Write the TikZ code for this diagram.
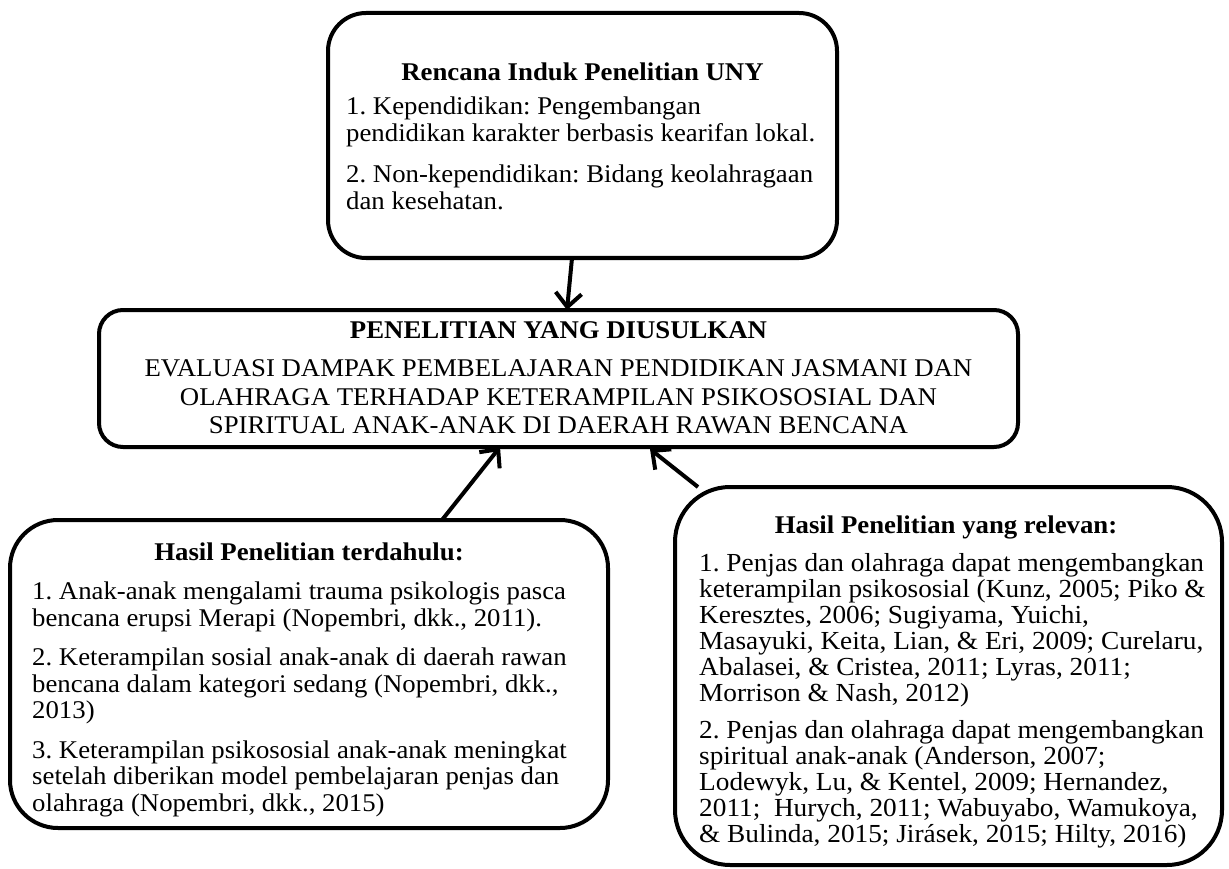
\documentclass[tikz,border=0pt]{standalone}
\usepackage{fontspec}
\setmainfont{Liberation Serif}[FakeStretch=1.05]
\usetikzlibrary{arrows.meta}
\begin{document}
\begin{tikzpicture}[x=1pt,y=-1pt,
  box/.style={draw, line width=4pt, outer sep=0pt, inner sep=0pt, fill=white},
  body/.style={inner sep=0pt, align=left, anchor=north west,
    font=\fontsize{25.5}{26.5}\selectfont\frenchspacing},
  bigbody/.style={inner sep=0pt, align=left, anchor=north west,
    font=\fontsize{26}{26}\selectfont\frenchspacing},
  midbody/.style={inner sep=0pt, align=center, anchor=north,
    font=\fontsize{25.5}{28.5}\selectfont\frenchspacing},
  ttl/.style={inner sep=0pt, anchor=base,
    font=\fontsize{25.5}{26.5}\selectfont\bfseries\frenchspacing},
  conn/.style={line width=4pt, -{Straight Barb[length=14pt,width=26pt]}}]
\useasboundingbox (0,0) rectangle (1229,869);
\fill[white] (0,0) rectangle (1229,869);

% boxes
\node[box, rounded corners=38pt, minimum width=509pt, minimum height=245pt] (top) at (582.5,135.5) {};
\node[box, rounded corners=24pt, minimum width=919pt, minimum height=137pt] (mid) at (558.5,378.5) {};
\node[box, rounded corners=48pt, minimum width=598pt, minimum height=308pt] (left) at (309,674) {};
\node[box, rounded corners=55pt, minimum width=547pt, minimum height=378pt] (right) at (948.5,676) {};

% top box texts
\node[ttl] (toptitle) at (582.5,80.5) {Rencana Induk Penelitian UNY};
\node[body] (toptext) at (346,97) {1. Kependidikan: Pengembangan\\
pendidikan karakter berbasis kearifan lokal.\\[15pt]
2. Non-kependidikan: Bidang keolahragaan\\
dan kesehatan.};

% middle box texts
\node[ttl] (midtitle) at (558.5,338.5) {PENELITIAN YANG DIUSULKAN};
\node[midbody] (midtext) at (558.5,359.5) {EVALUASI DAMPAK PEMBELAJARAN PENDIDIKAN JASMANI DAN\\
OLAHRAGA TERHADAP KETERAMPILAN PSIKOSOSIAL DAN\\
SPIRITUAL ANAK-ANAK DI DAERAH RAWAN BENCANA};

% left box texts
\node[ttl] (lefttitle) at (309,560.5) {Hasil Penelitian terdahulu:};
\node[body] (lefttext) at (32,582) {1. Anak-anak mengalami trauma psikologis pasca\\
bencana erupsi Merapi (Nopembri, dkk., 2011).\\[13pt]
2. Keterampilan sosial anak-anak di daerah rawan\\
bencana dalam kategori sedang (Nopembri, dkk.,\\
2013)\\[13pt]
3. Keterampilan psikososial anak-anak meningkat\\
setelah diberikan model pembelajaran penjas dan\\
olahraga (Nopembri, dkk., 2015)};

% right box texts
\node[ttl] (righttitle) at (946,533.5) {Hasil Penelitian yang relevan:};
\node[bigbody] (righttext) at (699,553) {1. Penjas dan olahraga dapat mengembangkan\\
keterampilan psikososial (Kunz, 2005; Piko \&\\
Keresztes, 2006; Sugiyama, Yuichi,\\
Masayuki, Keita, Lian, \& Eri, 2009; Curelaru,\\
Abalasei, \& Cristea, 2011; Lyras, 2011;\\
Morrison \& Nash, 2012)\\[11pt]
2. Penjas dan olahraga dapat mengembangkan\\
spiritual anak-anak (Anderson, 2007;\\
Lodewyk, Lu, \& Kentel, 2009; Hernandez,\\
2011;\ \ Hurych, 2011; Wabuyabo, Wamukoya,\\
\& Bulinda, 2015; Jirásek, 2015; Hilty, 2016)};

% connectors
\draw[conn] ([xshift=-10.5pt]top.south) -- ([xshift=8.5pt]mid.north);
\draw[conn] ([xshift=133pt]left.north) -- ([xshift=-58.5pt]mid.south);
\draw[conn] ([xshift=-250.5pt]right.north) -- ([xshift=91.5pt,yshift=-2pt]mid.south);
\end{tikzpicture}
\end{document}
